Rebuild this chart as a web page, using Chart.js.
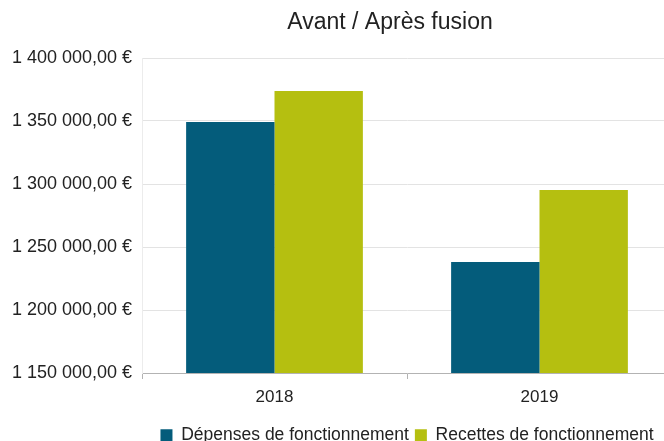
<!DOCTYPE html>
<html>
<head>
<meta charset="utf-8">
<script src="https://cdn.jsdelivr.net/npm/chart.js@4"></script>
<style>
html,body{margin:0;padding:0;background:#fff;overflow:hidden;}
#wrap{width:664px;height:441px;position:relative;overflow:hidden;}
</style>
</head>
<body>
<div id="wrap"><canvas id="c" width="672" height="454"></canvas></div>
<script>
const chartTitle = "Avant / Après fusion";
const categories = ["2018", "2019"];
const seriesNames = ["Dépenses de fonctionnement", "Recettes de fonctionnement"];
const depenses = [1349200, 1238100];
const recettes = [1373800, 1295200];
const yMin = 1150000, yMax = 1400000, yStep = 50000;

function fmtEuro(v){
  const s = Math.round(v).toString().replace(/\B(?=(\d{3})+(?!\d))/g, " ");
  return s + ",00 €";
}

const FONT = "'Liberation Sans', Arial, sans-serif";
const titlePlugin = {
  id: 'customTitle',
  afterDraw(chart){
    const ctx = chart.ctx;
    ctx.save();
    ctx.font = "23px " + FONT;
    ctx.fillStyle = "#222";
    ctx.textAlign = "center";
    ctx.textBaseline = "alphabetic";
    ctx.fillText(chartTitle, 390, 29);
    ctx.restore();
  }
};

new Chart(document.getElementById('c'), {
  type: 'bar',
  data: {
    labels: categories,
    datasets: [
      {label: seriesNames[0], data: depenses, backgroundColor: '#045c7b', borderWidth: 0},
      {label: seriesNames[1], data: recettes, backgroundColor: '#b5bf10', borderWidth: 0}
    ]
  },
  options: {
    responsive: false,
    animation: false,
    devicePixelRatio: 1,
    layout: {padding: {top: 58, left: 0, right: 0, bottom: 0}},
    datasets: {bar: {categoryPercentage: 0.667, barPercentage: 1.0}},
    plugins: {
      title: {display: false},
      tooltip: {enabled: false},
      legend: {
        position: 'bottom',
        fullSize: false,
        labels: {
          font: {family: FONT, size: 17.5},
          color: '#222',
          boxWidth: 12,
          boxHeight: 12,
          padding: 6
        }
      }
    },
    scales: {
      x: {
        grid: {display: true, drawOnChartArea: false, drawTicks: true, tickLength: 6, color: '#b3b3b3', offset: true},
        border: {display: true, color: '#b3b3b3'},
        ticks: {font: {family: FONT, size: 17}, color: '#222', padding: 8},
        afterFit(s){ s.height = 47.5; }
      },
      y: {
        min: yMin, max: yMax,
        grid: {color: '#e3e3e3', drawTicks: false},
        border: {display: true, color: '#ececec'},
        ticks: {
          stepSize: yStep,
          font: {family: FONT, size: 18},
          color: '#222',
          padding: 10,
          callback: v => fmtEuro(v)
        },
        afterFit(s){ s.width = 142; }
      }
    }
  },
  plugins: [titlePlugin]
});
</script>
</body>
</html>
